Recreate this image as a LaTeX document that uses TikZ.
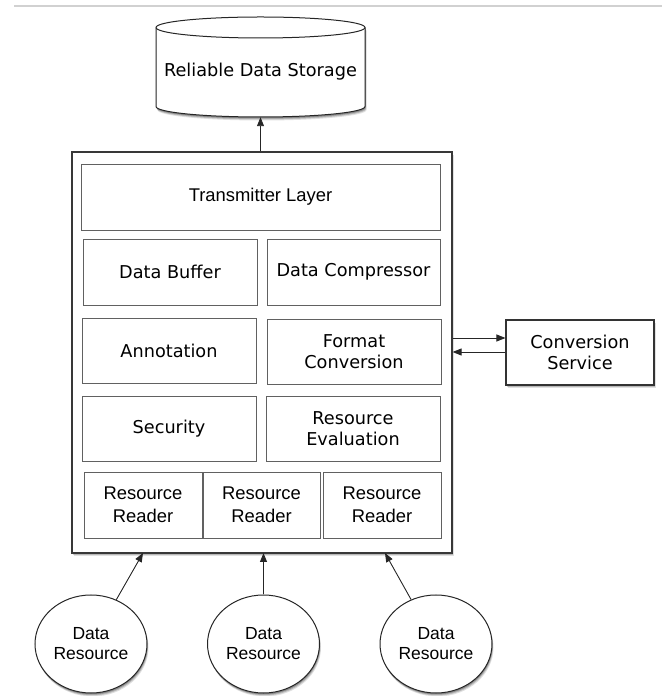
\documentclass[tikz,border=0pt]{standalone}
\usepackage{fontspec}
\newfontfamily\lucida{DejaVu Sans}
\newfontfamily\helv{Liberation Sans}
\usetikzlibrary{shapes.geometric,shadows,arrows.meta}
\begin{document}
\begin{tikzpicture}[x=1pt,y=1pt,
  arr/.style={-{Triangle[length=9pt,width=7pt]}, line width=0.9pt, draw=black!85},
  softshadow/.style={
    drop shadow={shadow xshift=1.5pt,shadow yshift=-3.5pt,opacity=0.12,fill=black},
    drop shadow={shadow xshift=1pt,shadow yshift=-2.5pt,opacity=0.18,fill=black},
    drop shadow={shadow xshift=0.5pt,shadow yshift=-1.5pt,opacity=0.25,fill=black}},
  lfont/.style={font=\lucida\fontsize{17.7}{21}\selectfont},
  hfont/.style={font=\helv\fontsize{18.4}{22.5}\selectfont},
  inbox/.style={draw=black!62, line width=0.9pt, minimum width=174pt, minimum height=65pt,
    inner sep=0pt, align=center, fill=white, lfont},
  rdbox/.style={draw=black!62, line width=0.9pt, minimum width=118pt, minimum height=66pt,
    inner sep=0pt, align=center, fill=white, hfont},
  resnode/.style={ellipse, draw=black!85, line width=1pt, fill=white, softshadow,
    minimum width=112pt, minimum height=98pt, inner sep=0pt, align=center,
    font=\helv\fontsize{17.5}{20}\selectfont}
]
\useasboundingbox (0,0) rectangle (662,696);

% top rule
\draw[black!18, line width=1.2pt] (14,690) -- (662,690);

% storage cylinder
\draw[line width=1pt, draw=black!85, fill=white, softshadow]
  (156,668.5) -- (156,589.5)
  arc[start angle=180, end angle=360, x radius=104.5, y radius=10.5]
  -- (365,668.5)
  arc[start angle=0, end angle=180, x radius=104.5, y radius=10.5] -- cycle;
\draw[line width=1pt, draw=black!85]
  (156,668.5) arc[start angle=180, end angle=360, x radius=104.5, y radius=10.5];
\node[lfont, minimum height=90pt, minimum width=209pt, inner sep=0pt] (storage) at (260.5,624) {Reliable Data Storage};

% outer box
\node[draw=black!78, line width=1.2pt, fill=white, softshadow, minimum width=380pt,
  minimum height=401pt, inner sep=0pt] (outer) at (262,343.5) {};

% inner boxes
\node[inbox, hfont, minimum width=359pt, minimum height=66pt] (tx) at (260.5,499) {Transmitter Layer};
\node[inbox, minimum height=66pt] (buf) at (170,424) {Data Buffer};
\node[inbox, minimum width=173pt, minimum height=66pt] (comp) at (353.5,424) {Data Compressor};
\node[inbox] (ann) at (169,345.5) {Annotation};
\node[inbox] (fmt) at (354,344.5) {Format\\Conversion};
\node[inbox] (sec) at (169,267.5) {Security};
\node[inbox] (eval) at (353,267.5) {Resource\\Evaluation};
\node[rdbox] (rr1) at (143,191) {Resource\\Reader};
\node[rdbox, minimum width=117pt] (rr2) at (261.5,191) {Resource\\Reader};
\node[rdbox] (rr3) at (382,191) {Resource\\Reader};

% conversion service
\node[draw=black!80, line width=1.1pt, fill=white, softshadow, minimum width=148pt,
  minimum height=65pt, inner sep=0pt, align=center, lfont] (conv) at (580,343.5) {Conversion\\Service};

% data resources
\node[resnode] (dr1) at (91,52) {Data\\Resource};
\node[resnode] (dr2) at (263.5,52) {Data\\Resource};
\node[resnode] (dr3) at (436,52) {Data\\Resource};

% connectors
\draw[arr] (storage.south |- outer.north) -- (storage.south);
\draw[arr] ([yshift=14.5pt]outer.east) -- ([yshift=14.5pt]conv.west);
\draw[arr] ([yshift=0.5pt]conv.west) -- ([yshift=0.5pt]outer.east);
\coordinate (in1) at (143,143);
\coordinate (in2) at (263.5,143);
\coordinate (in3) at (385,143);
\draw[arr] (dr1) -- (in1);
\draw[arr] (dr2) -- (in2);
\draw[arr] (dr3) -- (in3);
\end{tikzpicture}
\end{document}
